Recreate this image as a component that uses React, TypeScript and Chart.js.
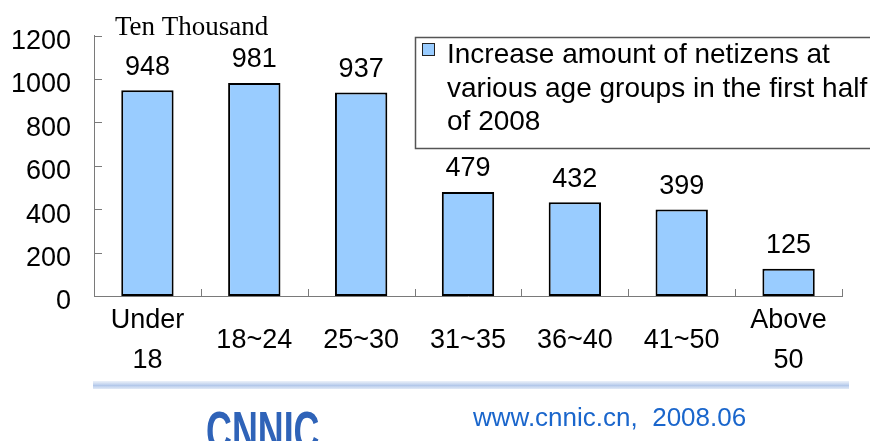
import React, { useEffect, useRef } from 'react';
import { Chart, registerables } from 'chart.js';

Chart.register(...registerables);

const categories: (string | string[])[] = [
  ['Under', '18'],
  '18~24',
  '25~30',
  '31~35',
  '36~40',
  '41~50',
  ['Above', '50'],
];
const values: number[] = [948, 981, 937, 479, 432, 399, 125];
const yTicks: number[] = [0, 200, 400, 600, 800, 1000, 1200];
const unitLabel = 'Ten Thousand';
const legendLines: string[] = [
  'Increase amount of netizens at',
  'various age groups in the first half',
  'of 2008',
];
const footerText = 'www.cnnic.cn,  2008.06';
const logoText = 'CNNIC';

const SANS = '"Liberation Sans", Arial, sans-serif';
const SERIF = '"Liberation Serif", "Times New Roman", serif';
const BAR_FILL = '#99CCFF';
const AXIS_GRAY = '#7a7a7a';

const tickMarksPlugin = {
  id: 'tickMarks',
  afterDatasetsDraw(chart: any) {
    const { ctx, scales } = chart;
    const x = scales.x;
    const y = scales.y;
    ctx.save();
    ctx.strokeStyle = AXIS_GRAY;
    ctx.lineWidth = 1;
    ctx.beginPath();
    y.ticks.forEach((_t: any, i: number) => {
      const py = Math.round(y.getPixelForTick(i)) + 0.5;
      ctx.moveTo(y.right, py);
      ctx.lineTo(y.right + 8, py);
    });
    for (let i = 0; i <= categories.length; i++) {
      const px = Math.round(x.getPixelForValue(i - 0.5)) + 0.5;
      ctx.moveTo(px, x.top);
      ctx.lineTo(px, x.top - 7);
    }
    ctx.stroke();
    ctx.restore();
  },
};

const valueLabelsPlugin = {
  id: 'valueLabels',
  afterDatasetsDraw(chart: any) {
    const { ctx } = chart;
    const meta = chart.getDatasetMeta(0);
    ctx.save();
    ctx.font = `27px ${SANS}`;
    ctx.fillStyle = '#000';
    ctx.textAlign = 'center';
    ctx.textBaseline = 'middle';
    meta.data.forEach((bar: any, i: number) => {
      ctx.fillText(String(values[i]), bar.x, bar.y - 23);
    });
    ctx.restore();
  },
};

const decorPlugin = {
  id: 'decor',
  afterDraw(chart: any) {
    const { ctx } = chart;
    ctx.save();
    // unit label
    ctx.font = `27px ${SERIF}`;
    ctx.fillStyle = '#000';
    ctx.textAlign = 'left';
    ctx.textBaseline = 'alphabetic';
    ctx.fillText(unitLabel, 115, 35);

    // legend box
    ctx.fillStyle = '#fff';
    ctx.fillRect(415, 37, 470, 111);
    ctx.strokeStyle = '#555';
    ctx.lineWidth = 1.5;
    ctx.strokeRect(415.5, 37.5, 470, 111);
    ctx.fillStyle = BAR_FILL;
    ctx.fillRect(422, 43, 13, 13);
    ctx.strokeStyle = '#222';
    ctx.lineWidth = 1;
    ctx.strokeRect(422.5, 43.5, 12, 12);
    ctx.fillStyle = '#000';
    ctx.font = `28px ${SANS}`;
    legendLines.forEach((line, i) => {
      ctx.fillText(line, 447, 63 + i * 33.5);
    });

    // separator line
    const g = ctx.createLinearGradient(0, 381, 0, 390);
    g.addColorStop(0, 'rgba(220,230,245,0.6)');
    g.addColorStop(0.5, '#b3c8ea');
    g.addColorStop(1, 'rgba(220,230,245,0.6)');
    ctx.fillStyle = g;
    ctx.fillRect(93, 381, 756, 8);

    // logo
    ctx.save();
    ctx.fillStyle = '#2f63b8';
    ctx.font = `bold 56px ${SANS}`;
    ctx.translate(206, 450);
    ctx.scale(0.64, 1);
    ctx.fillText(logoText, 0, 0);
    ctx.restore();

    // footer
    ctx.fillStyle = '#1a66cc';
    ctx.font = `26px ${SANS}`;
    ctx.fillText(footerText, 473, 426);
    ctx.restore();
  },
};

export default function App() {
  const canvasRef = useRef<HTMLCanvasElement | null>(null);

  useEffect(() => {
    const canvas = canvasRef.current;
    if (!canvas) return;
    const chart = new Chart(canvas, {
      type: 'bar',
      data: {
        labels: categories,
        datasets: [
          {
            label: legendLines.join(' '),
            data: values,
            backgroundColor: BAR_FILL,
            borderColor: '#000',
            borderWidth: 2,
            borderSkipped: false,
            barPercentage: 0.49,
            categoryPercentage: 1,
          },
        ],
      },
      options: {
        animation: false,
        responsive: false,
        devicePixelRatio: 1,
        events: [],
        layout: { padding: { top: 35.5, right: 28, bottom: 0, left: 0 } },
        plugins: {
          legend: { display: false },
          tooltip: { enabled: false },
          title: { display: false },
        },
        scales: {
          x: {
            grid: { display: false, offset: true },
            border: { display: true, color: AXIS_GRAY, width: 1 },
            ticks: {
              autoSkip: false,
              maxRotation: 0,
              minRotation: 0,
              crossAlign: 'center',
              padding: 17,
              color: '#000',
              font: { family: SANS, size: 27, lineHeight: 40 / 27 },
            },
            afterFit(scale: any) {
              scale.height = 145;
            },
          },
          y: {
            min: 0,
            max: 1200,
            grid: { display: false, drawTicks: true, tickLength: 23 },
            border: { display: true, color: AXIS_GRAY, width: 1 },
            ticks: {
              stepSize: 200,
              padding: 0,
              labelOffset: 6,
              color: '#000',
              font: { family: SANS, size: 27 },
              callback: (v: any) => String(v),
            },
            afterBuildTicks(scale: any) {
              scale.ticks = yTicks.map((v) => ({ value: v }));
            },
            afterFit(scale: any) {
              scale.width = 94;
            },
          },
        },
      },
      plugins: [tickMarksPlugin, valueLabelsPlugin, decorPlugin],
    } as any);
    return () => chart.destroy();
  }, []);

  return (
    <div style={{ position: 'absolute', left: 0, top: 0, width: 870, height: 441, background: '#fff' }}>
      <canvas ref={canvasRef} width={870} height={441} style={{ width: 870, height: 441, display: 'block' }} />
    </div>
  );
}
